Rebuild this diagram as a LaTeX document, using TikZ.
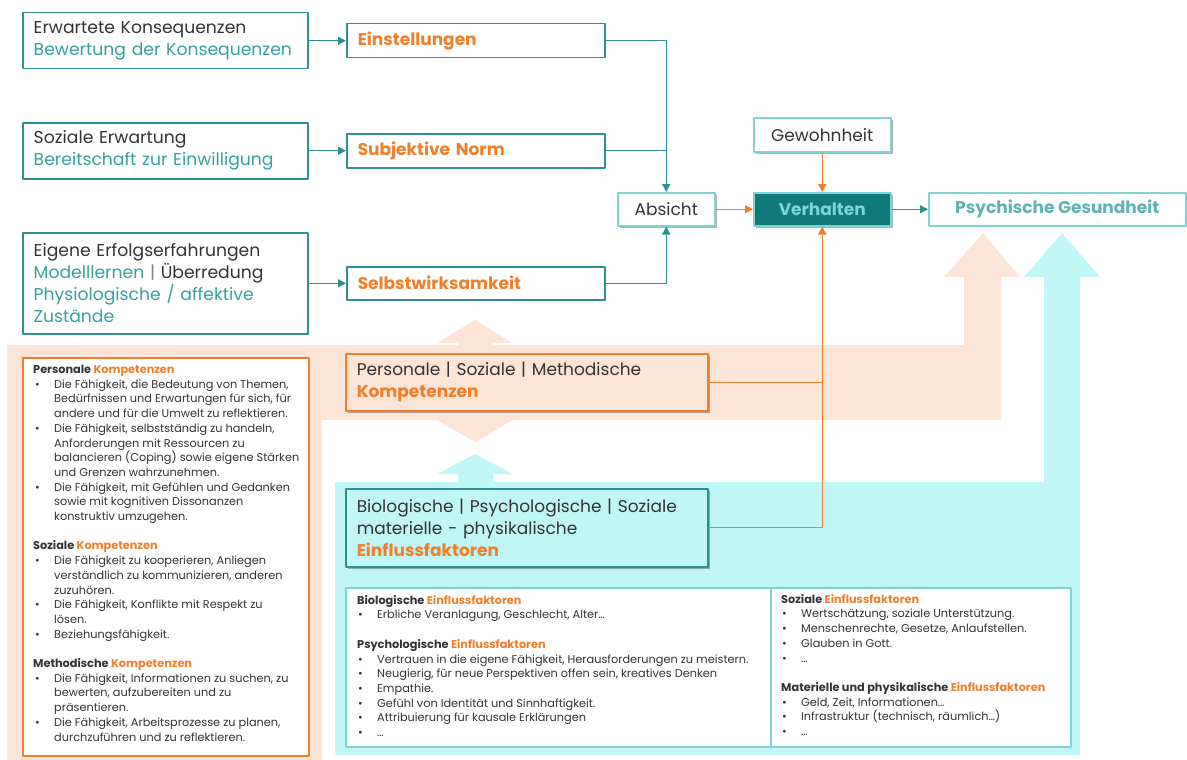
\documentclass[tikz,border=0pt]{standalone}
\usepackage{fontspec}
\setmainfont{Poppins}
\usetikzlibrary{arrows.meta,shadows}
\definecolor{tealD}{HTML}{2E8F8F}
\definecolor{tealT}{HTML}{36A0A0}
\definecolor{tealL}{HTML}{7ED3D3}
\definecolor{tealF}{HTML}{0F7A78}
\definecolor{cam}{HTML}{F07F2A}
\definecolor{dao}{HTML}{FCE4D6}
\definecolor{xanh}{HTML}{C0F6F6}
\definecolor{chu}{HTML}{333333}
\newcommand{\pk}{\makebox[21pt][l]{\hspace{2pt}\textbullet}}
\newcommand{\ei}{\hspace*{21pt}}
\newcommand{\pkk}{\makebox[20pt][l]{\hspace{1pt}\textbullet}}
\tikzset{
  hop/.style={draw=tealD, line width=1.5pt, fill=white, anchor=north west, inner xsep=11pt, inner ysep=0pt,
    align=left, text=chu, font=\fontsize{17.2}{22}\selectfont},
  nhan/.style={hop, text=cam, font=\fontsize{17}{22}\selectfont\bfseries},
  nho/.style={draw=tealL, line width=1.5pt, fill=white, anchor=north west, inner sep=0pt, text=chu,
    font=\fontsize{17}{20}\selectfont},
  bong/.style={drop shadow={shadow xshift=2pt, shadow yshift=-2pt, opacity=0.3, fill=black}},
  liste/.style={anchor=north west, inner sep=0pt, align=left, text=chu, font=\fontsize{11.3}{14.7}\selectfont},
  tuyen/.style={draw=tealD, line width=1.4pt},
  tuyencam/.style={draw=cam, line width=1.4pt}
}
\begin{document}
\begin{tikzpicture}[x=1pt, y=-1pt, line join=round, >={Triangle[length=8pt,width=8pt]}]
\useasboundingbox (0,0) rectangle (1187,760);
% Nền cam và nền xanh
\fill[dao] (7,345) -- (964,345) -- (964,277) -- (944,277) -- (983,233) -- (1020,277) -- (1001,277)
  -- (1001,420) -- (322,420) -- (322,760) -- (7,760) -- cycle;
\fill[dao] (458,343) -- (437,343) -- (475,320) -- (513,343) -- (493,343) -- (493,420) -- (513,420)
  -- (475,442) -- (437,420) -- (458,420) -- cycle;
\fill[xanh] (335,482) -- (1044,482) -- (1044,277) -- (1024,277) -- (1062,233) -- (1100,277) -- (1080,277)
  -- (1080,755) -- (335,755) -- cycle;
\fill[xanh] (458,482) -- (458,474) -- (437,474) -- (475,454) -- (513,474) -- (493,474) -- (493,482) -- cycle;
% Các hộp bên trái
\node[hop, text width=263, minimum height=56] (kons) at (22,12)
  {Erwartete Konsequenzen\\ \textcolor{tealT}{Bewertung der Konsequenzen}};
\node[hop, text width=263, minimum height=56] (erw) at (22,122)
  {Soziale Erwartung\\ \textcolor{tealT}{Bereitschaft zur Einwilligung}};
\node[hop, text width=263, minimum height=101] (erfolg) at (22,232)
  {Eigene Erfolgserfahrungen\\ \textcolor{tealT}{Modelllernen} \textcolor{gray}{|} Überredung\\
   \textcolor{tealT}{Physiologische / affektive}\\ \textcolor{tealT}{Zustände}};
\node[nhan, text width=236, minimum height=34] (einst) at (346,23) {Einstellungen};
\node[nhan, text width=236, minimum height=34] (norm) at (346,133) {Subjektive Norm};
\node[nhan, text width=236, minimum height=33] (selbst) at (346,266) {Selbstwirksamkeit};
% Mitte
\node[nho, bong, minimum width=97, minimum height=33] (absicht) at (617,192) {Absicht};
\node[nho, bong, minimum width=137, minimum height=34] (gewohn) at (753,117) {Gewohnheit};
\node[nho, bong, fill=tealF, text=tealL, font=\fontsize{17}{20}\selectfont\bfseries,
  minimum width=137, minimum height=33] (verhalten) at (753,192) {Verhalten};
\node[nho, text=tealT!80, font=\fontsize{17}{20}\selectfont\bfseries,
  minimum width=257, minimum height=33] (gesund) at (928,192) {Psychische Gesundheit};
\node[hop, bong, draw=cam, fill=dao, text width=340, minimum height=57, font=\fontsize{17}{22}\selectfont]
  (komp) at (345,353) {Personale | Soziale | Methodische\\ \textcolor{cam}{\bfseries Kompetenzen}};
\node[hop, bong, fill=xanh, text width=340, minimum height=78, font=\fontsize{17}{22}\selectfont]
  (einfl) at (345,488) {Biologische | Psychologische | Soziale\\ materielle - physikalische\\
   \textcolor{cam}{\bfseries Einflussfaktoren}};
% Listen
\node[draw=cam, line width=1.5pt, fill=white, anchor=north west, minimum width=286, minimum height=398]
  (kompbox) at (22,357) {};
\node[liste] (kompliste) at (33,365) {%
\textbf{Personale \textcolor{cam}{Kompetenzen}}\\
\pk Die Fähigkeit, die Bedeutung von Themen,\\
\ei Bedürfnissen und Erwartungen für sich, für\\
\ei andere und für die Umwelt zu reflektieren.\\
\pk Die Fähigkeit, selbstständig zu handeln,\\
\ei Anforderungen mit Ressourcen zu\\
\ei balancieren (Coping) sowie eigene Stärken\\
\ei und Grenzen wahrzunehmen.\\
\pk Die Fähigkeit, mit Gefühlen und Gedanken\\
\ei sowie mit kognitiven Dissonanzen\\
\ei konstruktiv umzugehen.\\[14.7pt]
\textbf{Soziale \textcolor{cam}{Kompetenzen}}\\
\pk Die Fähigkeit zu kooperieren, Anliegen\\
\ei verständlich zu kommunizieren, anderen\\
\ei zuzuhören.\\
\pk Die Fähigkeit, Konflikte mit Respekt zu\\
\ei lösen.\\
\pk Beziehungsfähigkeit.\\[14.7pt]
\textbf{Methodische \textcolor{cam}{Kompetenzen}}\\
\pk Die Fähigkeit, Informationen zu suchen, zu\\
\ei bewerten, aufzubereiten und zu\\
\ei präsentieren.\\
\pk Die Fähigkeit, Arbeitsprozesse zu planen,\\
\ei durchzuführen und zu reflektieren.};
\node[draw=tealL, line width=1.5pt, fill=white, anchor=north west, minimum width=425, minimum height=159]
  (biobox) at (345,587) {};
\node[draw=tealL, line width=1.5pt, fill=white, anchor=north west, minimum width=300, minimum height=159]
  (sozbox) at (770,587) {};
\node[liste] (bioliste) at (357,595) {%
\textbf{Biologische \textcolor{cam}{Einflussfaktoren}}\\
\pkk Erbliche Veranlagung, Geschlecht, Alter…\\[14.7pt]
\textbf{Psychologische \textcolor{cam}{Einflussfaktoren}}\\
\pkk Vertrauen in die eigene Fähigkeit, Herausforderungen zu meistern.\\
\pkk Neugierig, für neue Perspektiven offen sein, kreatives Denken\\
\pkk Empathie.\\
\pkk Gefühl von Identität und Sinnhaftigkeit.\\
\pkk Attribuierung für kausale Erklärungen\\
\pkk …};
\node[liste] (sozliste) at (781,594) {%
\textbf{Soziale \textcolor{cam}{Einflussfaktoren}}\\
\pkk Wertschätzung, soziale Unterstützung.\\
\pkk Menschenrechte, Gesetze, Anlaufstellen.\\
\pkk Glauben in Gott.\\
\pkk …\\[14.7pt]
\textbf{Materielle und physikalische \textcolor{cam}{Einflussfaktoren}}\\
\pkk Geld, Zeit, Informationen…\\
\pkk Infrastruktur (technisch, räumlich…)\\
\pkk …};
% Pfeile
\draw[tuyen,->] (kons.east) -- (einst.west);
\draw[tuyen,->] (erw.east) -- (norm.west);
\draw[tuyen,->] (erfolg.east) -- (selbst.west);
\draw[tuyen,->] (einst.east) -| (absicht.north);
\draw[tuyen] (norm.east) -- (norm.east -| absicht.north);
\draw[tuyen,->] (selbst.east) -| (absicht.south);
\draw[tuyencam,->] (absicht) -- (verhalten);
\draw[tuyencam,->] (gewohn) -- (verhalten);
\draw[tuyen,->] (verhalten) -- (gesund);
\draw[tuyencam] (komp.east) -- (komp.east -| verhalten.south);
\draw[tuyencam,->] (einfl.east) -| (verhalten.south);
\end{tikzpicture}
\end{document}
